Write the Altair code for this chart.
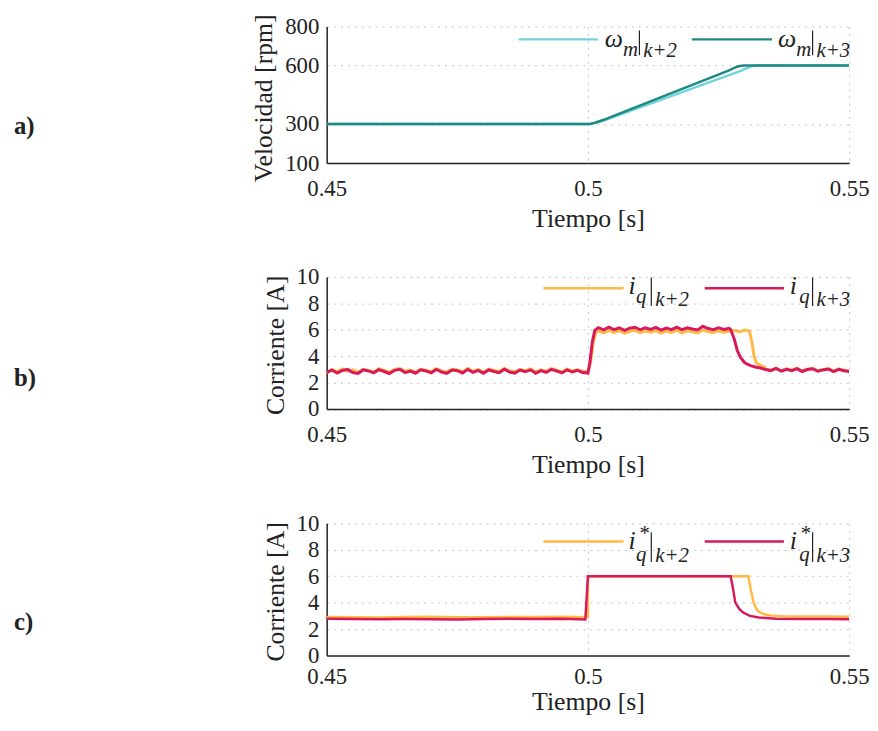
import altair as alt
import pandas as pd

FONT = "Liberation Serif"
INK = "#222222"
CYAN = "#72D3DD"
TEAL = "#1E8A82"
ORANGE = "#FFB944"
CRIMSON = "#D8195B"

# ---------------- panel a: speed ----------------
w2_t = [0.450, 0.500, 0.5006, 0.5015, 0.5030, 0.5295, 0.5305, 0.5313, 0.5322, 0.550]
w2_v = [300, 300, 301.5, 306, 318, 575, 588, 596, 600, 600]
w3_t = [0.450, 0.500, 0.5006, 0.5015, 0.5030, 0.5270, 0.5280, 0.5288, 0.5298, 0.550]
w3_v = [300, 300, 302, 308, 322, 575, 588, 596, 600, 600]

# ---------------- panel b: measured current ----------------
ms_pre = [0.450, 0.451, 0.452, 0.453, 0.454, 0.455, 0.456, 0.457, 0.458, 0.459,
          0.460, 0.461, 0.462, 0.463, 0.464, 0.465, 0.466, 0.467, 0.468, 0.469,
          0.470, 0.471, 0.472, 0.473, 0.474, 0.475, 0.476, 0.477, 0.478, 0.479,
          0.480, 0.481, 0.482, 0.483, 0.484, 0.485, 0.486, 0.487, 0.488, 0.489,
          0.490, 0.491, 0.492, 0.493, 0.494, 0.495, 0.496, 0.497, 0.498, 0.499,
          0.500]
ms_post = [0.533, 0.534, 0.535, 0.536, 0.537, 0.538, 0.539, 0.540, 0.541, 0.542,
           0.543, 0.544, 0.545, 0.546, 0.547, 0.548, 0.549, 0.550]

iq3_pre = [2.78, 2.95, 2.72, 2.92, 3.00, 2.76, 2.70, 2.96, 2.88, 2.74,
           2.98, 2.84, 2.69, 2.93, 3.01, 2.76, 2.87, 2.71, 2.97, 2.88,
           2.74, 2.99, 2.80, 2.70, 2.95, 2.90, 2.73, 3.00, 2.78, 2.92,
           2.71, 2.96, 2.84, 2.75, 3.01, 2.80, 2.72, 2.95, 2.82, 2.97,
           2.71, 2.90, 2.77, 3.00, 2.88, 2.73, 2.96, 2.80, 2.92, 2.76,
           2.72]
iq3_mid_t = [0.5004, 0.5008, 0.5013,
             0.502, 0.503, 0.504, 0.505, 0.506, 0.507, 0.508, 0.509, 0.510, 0.511,
             0.512, 0.513, 0.514, 0.515, 0.516, 0.517, 0.518, 0.519, 0.520, 0.521,
             0.522, 0.523, 0.524, 0.525, 0.526, 0.527,
             0.5273, 0.5280, 0.5286, 0.5292, 0.5300, 0.5310, 0.5320]
iq3_mid_v = [3.60, 5.00, 5.95,
             6.16, 5.99, 6.20, 6.01, 6.15, 5.95, 6.12, 6.19, 6.00, 6.14,
             6.03, 6.18, 5.97, 6.12, 6.01, 6.20, 6.00, 6.15, 6.06, 5.98,
             6.26, 6.09, 6.00, 6.14, 6.03, 6.10,
             6.02, 5.30, 4.40, 3.90, 3.50, 3.30, 3.18]
iq3_post = [3.10, 2.99, 2.90, 3.07, 2.86, 3.01, 2.91, 3.06, 2.84, 2.99,
            3.05, 2.86, 2.96, 3.03, 2.83, 3.00, 2.90, 2.84]

iq2_pre = [2.72, 2.99, 2.83, 3.03, 2.86, 2.96, 2.78, 3.01, 2.90, 2.82,
           3.05, 2.92, 2.80, 2.99, 3.06, 2.87, 2.95, 2.79, 3.03, 2.93,
           2.84, 3.05, 2.89, 2.81, 3.00, 2.96, 2.82, 3.07, 2.87, 2.98,
           2.80, 3.02, 2.93, 2.84, 3.08, 2.89, 2.82, 3.00, 2.91, 3.04,
           2.81, 2.96, 2.86, 3.06, 2.94, 2.82, 3.02, 2.89, 2.97, 2.86,
           2.83]
iq2_mid_t = [0.5005, 0.5010, 0.5015,
             0.502, 0.503, 0.504, 0.505, 0.506, 0.507, 0.508, 0.509, 0.510, 0.511,
             0.512, 0.513, 0.514, 0.515, 0.516, 0.517, 0.518, 0.519, 0.520, 0.521,
             0.522, 0.523, 0.524, 0.525, 0.526, 0.527, 0.528, 0.529, 0.530,
             0.5309, 0.5314, 0.5318, 0.5322, 0.5330, 0.5340]
iq2_mid_v = [3.50, 5.00, 5.80,
             5.90, 5.76, 5.95, 5.80, 5.93, 5.74, 5.88, 5.96, 5.78, 5.91,
             5.81, 5.94, 5.75, 5.90, 5.80, 5.97, 5.77, 5.92, 5.84, 5.76,
             5.98, 5.86, 5.79, 5.91, 5.82, 5.90, 5.95, 5.85, 5.97,
             5.90, 5.00, 4.00, 3.50, 3.30, 3.15]
iq2_post = [3.14, 3.03, 2.95, 3.10, 2.90, 3.05, 2.94, 3.09, 2.88, 3.02,
            3.08, 2.90, 3.00, 3.06, 2.87, 3.04, 2.93, 2.88]

# ---------------- panel c: reference current ----------------
r2_t = [0.450, 0.455, 0.460, 0.465, 0.470, 0.475, 0.480, 0.485, 0.490, 0.495, 0.500,
        0.500, 0.5307, 0.5311, 0.5317, 0.5322, 0.5327, 0.5337, 0.5351, 0.5380,
        0.542, 0.546, 0.550]
r2_v = [2.92, 2.90, 2.88, 2.91, 2.93, 2.90, 2.89, 2.92, 2.91, 2.93, 2.90,
        6.00, 6.00, 5.10, 4.00, 3.55, 3.30, 3.12, 3.02, 2.96,
        2.95, 2.96, 2.94]
r3_t = [0.450, 0.455, 0.460, 0.465, 0.470, 0.475, 0.480, 0.485, 0.490, 0.495, 0.4995,
        0.500, 0.5273, 0.5277, 0.5282, 0.5290, 0.5297, 0.5310, 0.5327, 0.5360,
        0.541, 0.546, 0.550]
r3_v = [2.78, 2.77, 2.74, 2.76, 2.75, 2.73, 2.76, 2.78, 2.77, 2.79, 2.72,
        6.00, 6.00, 5.20, 4.00, 3.50, 3.25, 3.00, 2.88, 2.78,
        2.77, 2.76, 2.74]


def frame(t, v):
    return pd.DataFrame({"t": t, "v": v, "i": list(range(len(t)))})


ONE = pd.DataFrame({"d": [0]})


def line(df, color, ydom, yticks, ytitle, ty, sw=2.5, lp=15, tp=5):
    return alt.Chart(df).mark_line(color=color, strokeWidth=sw, clip=True).encode(
        x=alt.X("t:Q", scale=alt.Scale(domain=[0.45, 0.55], nice=False, zero=False),
                axis=alt.Axis(values=[0.45, 0.5, 0.55], format=".2~f", title="Tiempo [s]",
                              labelFlush=False, labelPadding=lp, titlePadding=tp)),
        y=alt.Y("v:Q", scale=alt.Scale(domain=ydom, nice=False, zero=False),
                axis=alt.Axis(values=yticks, format="d", title=ytitle, titleY=ty,
                              labelPadding=8, titlePadding=8)),
        order="i:Q",
    )


def txt(s, x, y, size, italic=True, bold=False, baseline="alphabetic"):
    kw = dict(text=s, font=FONT, fontSize=size, align="left", baseline=baseline, color=INK)
    if italic:
        kw["fontStyle"] = "italic"
    if bold:
        kw["fontWeight"] = "bold"
    return alt.Chart(ONE).mark_text(**kw).encode(x=alt.value(x), y=alt.value(y))


def swatch(color, x1, x2, y):
    return alt.Chart(ONE).mark_rule(color=color, strokeWidth=2.5).encode(
        x=alt.value(x1), x2=alt.value(x2), y=alt.value(y))


def vbar(x, y1, y2):
    return alt.Chart(ONE).mark_rule(color=INK, strokeWidth=1.2).encode(
        x=alt.value(x), y=alt.value(y1), y2=alt.value(y2))


W = 528
LX = -316
YA = [100, 800]
YA_T = [100, 300, 600, 800]
YC = [0, 10]
YC_T = [0, 2, 4, 6, 8, 10]

# panel a
pa = alt.layer(
    line(frame(w2_t, w2_v), CYAN, YA, YA_T, "Velocidad [rpm]", 72),
    line(frame(w3_t, w3_v), TEAL, YA, YA_T, "Velocidad [rpm]", 72),
    swatch(CYAN, 194, 274, 13),
    txt("ω", 281, 21, 26), txt("m", 299.5, 30, 21), vbar(316, 4, 29), txt("k+2", 320, 31, 21),
    swatch(TEAL, 369, 450, 13),
    txt("ω", 456, 21, 26), txt("m", 474.5, 30, 21), vbar(491, 4, 29), txt("k+3", 495, 31, 21),
    txt("a)", LX, 101, 25, italic=False, bold=True, baseline="middle"),
).properties(width=W, height=138)

# panel b
pb = alt.layer(
    line(frame(ms_pre + iq2_mid_t + ms_post, iq2_pre + iq2_mid_v + iq2_post), ORANGE,
         YC, YC_T, "Corriente [A]", 68.75, sw=3),
    line(frame(ms_pre + iq3_mid_t + ms_post, iq3_pre + iq3_mid_v + iq3_post), CRIMSON,
         YC, YC_T, "Corriente [A]", 68.75, sw=3),
    swatch(ORANGE, 219, 300, 11.5),
    txt("i", 305, 17.5, 26), txt("q", 312.5, 26.5, 21), vbar(328, 0.5, 29.5), txt("k+2", 332, 29.5, 21),
    swatch(CRIMSON, 382, 462, 11.5),
    txt("i", 468, 17.5, 26), txt("q", 477.5, 26.5, 21), vbar(491, 0.5, 29.5), txt("k+3", 495, 29.5, 21),
    txt("b)", LX, 102.5, 25, italic=False, bold=True, baseline="middle"),
).properties(width=W, height=133.5)

# panel c
pc = alt.layer(
    line(frame(r2_t, r2_v), ORANGE, YC, YC_T, "Corriente [A]", 68.8, lp=10, tp=0.5),
    line(frame(r3_t, r3_v), CRIMSON, YC, YC_T, "Corriente [A]", 68.8, lp=10, tp=0.5),
    swatch(ORANGE, 219, 300, 18.3),
    txt("i", 305, 26.3, 26), txt("*", 316, 0, 21, italic=False, baseline="top"),
    txt("q", 312.5, 38.3, 21), vbar(328, 9, 39), txt("k+2", 332, 39.3, 21),
    swatch(CRIMSON, 382, 462, 18.3),
    txt("i", 468, 26.3, 26), txt("*", 479, 0, 21, italic=False, baseline="top"),
    txt("q", 477.5, 38.3, 21), vbar(491, 9, 39), txt("k+3", 495, 39.3, 21),
    txt("c)", LX, 99.3, 25, italic=False, bold=True, baseline="middle"),
).properties(width=W, height=133.6)

chart = alt.vconcat(pa, pb, pc, spacing=115, bounds="flush").properties(
    padding={"left": 6, "top": 2, "right": 0, "bottom": 0}
).configure_view(stroke=None).configure_axis(
    labelFont=FONT, titleFont=FONT, labelFontSize=23, titleFontSize=26,
    titleFontWeight="normal", labelColor=INK, titleColor=INK,
    domainColor=INK, domainWidth=1.5, ticks=False,
    grid=True, gridColor="#c4c4c4", gridDash=[2, 5], gridWidth=1,
    labelOverlap=False,
)

chart.save("out.html", embed_options={"renderer": "svg", "actions": False})
